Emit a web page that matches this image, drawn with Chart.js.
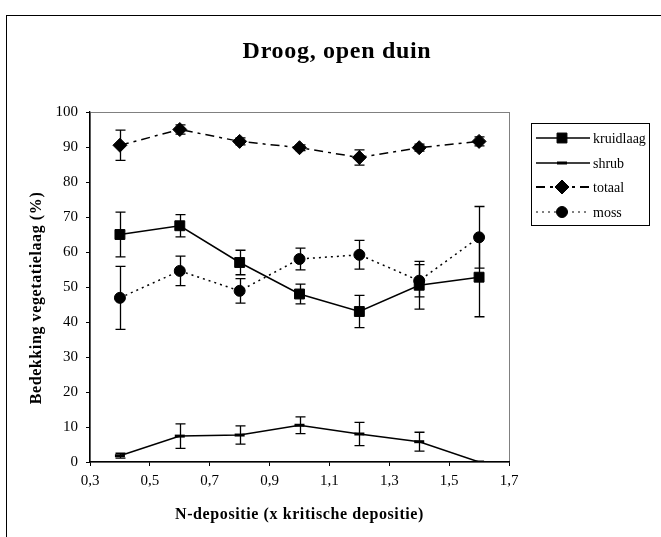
<!DOCTYPE html>
<html>
<head>
<meta charset="utf-8">
<script src="https://cdn.jsdelivr.net/npm/chart.js@4/dist/chart.umd.min.js"></script>
<style>
  html, body { margin: 0; padding: 0; background: #fff; overflow: hidden; }
  #wrap { position: relative; width: 661px; height: 537px; }
  #frame { position: absolute; left: 6px; top: 15px; width: 720px; height: 600px; border: 1px solid #000; }
  canvas { position: absolute; left: 0; top: 0; }
</style>
</head>
<body>
<div id="wrap">
  <div id="frame"></div>
  <canvas id="myChart" width="661" height="537"></canvas>
</div>
<script>
// N-depositie values (x kritische depositie)
const xVals = [0.4, 0.6, 0.8, 1.0, 1.2, 1.4, 1.6];

const kruidlaag    = [65.0, 67.5, 57.0, 48.0, 43.0, 50.5, 52.8];
const kruidlaagErr = [6.4, 3.2, 3.5, 2.8, 4.6, 6.8, 11.3];
const shrub        = [1.8, 7.4, 7.7, 10.5, 8.0, 5.8, 0];
const shrubErr     = [0.7, 3.5, 2.6, 2.4, 3.3, 2.7, 0];
const totaal       = [90.5, 95.0, 91.6, 89.8, 87.0, 89.8, 91.6];
const totaalErr    = [4.3, 1.3, 1.0, 0.8, 2.2, 1.0, 1.3];
const moss         = [46.9, 54.6, 48.9, 58.0, 59.2, 51.8, 64.2];
const mossErr      = [9.0, 4.2, 3.5, 3.1, 4.1, 4.6, 8.8];

const titleText = 'Droog, open duin';
const xTitle = 'N-depositie (x kritische depositie)';
const yTitle = 'Bedekking vegetatielaag (%)';

const serif = "'Liberation Serif', 'Times New Roman', serif";

function pts(vals) {
  return vals.map(function (v, i) { return { x: xVals[i], y: v }; });
}

// grey frame round the plot area (left/bottom axes are drawn black over it)
const plotFrame = {
  id: 'plotFrame',
  beforeDraw: function (chart) {
    const a = chart.chartArea, c = chart.ctx;
    c.save();
    c.strokeStyle = '#808080';
    c.lineWidth = 1;
    c.strokeRect(a.left + 0.5, a.top + 0.5, a.right - a.left, a.bottom - a.top);
    c.restore();
  }
};

// title and axis titles
const titles = {
  id: 'titles',
  afterDraw: function (chart) {
    const c = chart.ctx, a = chart.chartArea;
    c.save();
    c.fillStyle = '#000';
    c.textAlign = 'center';
    c.textBaseline = 'middle';
    c.letterSpacing = '0.7px';
    c.font = 'bold 24px ' + serif;
    c.fillText(titleText, 337, 52);
    c.letterSpacing = '0.6px';
    c.font = 'bold 16px ' + serif;
    c.fillText(xTitle, (a.left + a.right) / 2, 515);
    c.translate(37, 298);
    c.rotate(-Math.PI / 2);
    c.fillText(yTitle, 0, 0);
    c.restore();
  }
};

// error bars, read from each dataset's err array
const errorBars = {
  id: 'errorBars',
  beforeDatasetsDraw: function (chart) {
    const c = chart.ctx, xs = chart.scales.x, ys = chart.scales.y;
    c.save();
    c.strokeStyle = '#000';
    c.lineWidth = 1.3;
    chart.data.datasets.forEach(function (ds) {
      if (!ds.err) return;
      ds.data.forEach(function (p, i) {
        const e = ds.err[i];
        if (!e) return;
        const px = Math.round(xs.getPixelForValue(p.x)) + 0.5;
        const yTop = ys.getPixelForValue(p.y + e);
        const yBot = ys.getPixelForValue(p.y - e);
        c.beginPath();
        c.moveTo(px, yTop); c.lineTo(px, yBot);
        c.moveTo(px - 5, yTop); c.lineTo(px + 5, yTop);
        c.moveTo(px - 5, yBot); c.lineTo(px + 5, yBot);
        c.stroke();
      });
    });
    c.restore();
  }
};

// boxed legend with line + marker samples
const boxLegend = {
  id: 'boxLegend',
  afterDraw: function (chart) {
    const c = chart.ctx;
    c.save();
    c.strokeStyle = '#000';
    c.lineWidth = 1;
    c.strokeRect(531.5, 123.5, 118, 102);
    const rows = [138, 163, 187, 212];
    chart.data.datasets.forEach(function (ds, i) {
      const y = rows[i];
      c.beginPath();
      c.setLineDash(ds.borderDash || []);
      c.lineWidth = ds.legendWidth || ds.borderWidth;
      c.strokeStyle = '#000';
      c.moveTo(536, y); c.lineTo(590, y);
      c.stroke();
      c.setLineDash([]);
      c.fillStyle = '#000';
      c.lineWidth = ds.pointBorderWidth;
      Chart.helpers.drawPoint(c, {
        pointStyle: ds.pointStyle, radius: ds.pointRadius, borderWidth: ds.pointBorderWidth, rotation: 0
      }, 562, y);
      c.fillStyle = '#000';
      c.font = '14px ' + serif;
      c.textBaseline = 'middle';
      c.fillText(ds.label, 593, y + 1);
    });
    c.restore();
  }
};

var ctx = document.getElementById('myChart').getContext('2d');
var chart = new Chart(ctx, {
  type: 'line',
  data: {
    datasets: [
      {
        label: 'kruidlaag',
        data: pts(kruidlaag),
        err: kruidlaagErr,
        borderColor: '#000',
        backgroundColor: '#000',
        borderWidth: 1.5,
        pointStyle: 'rect',
        pointRadius: 7,
        pointBorderWidth: 1
      },
      {
        label: 'shrub',
        data: pts(shrub),
        err: shrubErr,
        borderColor: '#000',
        backgroundColor: '#000',
        borderWidth: 1.5,
        pointStyle: 'line',
        pointRadius: 5,
        pointBorderWidth: 3
      },
      {
        label: 'totaal',
        data: pts(totaal),
        err: totaalErr,
        borderColor: '#000',
        backgroundColor: '#000',
        borderWidth: 1.5,
        legendWidth: 2.2,
        borderDash: [9, 5, 3, 5],
        pointStyle: 'rectRot',
        pointRadius: 7,
        pointBorderWidth: 1
      },
      {
        label: 'moss',
        data: pts(moss),
        err: mossErr,
        borderColor: '#000',
        backgroundColor: '#000',
        borderWidth: 1.5,
        legendWidth: 1,
        borderDash: [2, 4],
        pointStyle: 'circle',
        pointRadius: 5.5,
        pointBorderWidth: 1
      }
    ]
  },
  options: {
    responsive: false,
    animation: false,
    layout: { padding: { top: 112, right: 152, bottom: 0, left: 0 } },
    plugins: {
      legend: { display: false },
      tooltip: { enabled: false },
      title: { display: false }
    },
    scales: {
      x: {
        type: 'linear',
        min: 0.3,
        max: 1.7,
        afterFit: function (s) { s.height = 75; },
        border: { color: '#000', width: 1.3 },
        grid: { drawOnChartArea: false, drawTicks: true, tickLength: 4, tickColor: '#000' },
        ticks: {
          stepSize: 0.2,
          color: '#000',
          padding: 6,
          maxRotation: 0,
          font: { family: serif, size: 15 },
          callback: function (v) { return v.toFixed(1).replace('.', ','); }
        }
      },
      y: {
        min: 0,
        max: 100,
        afterFit: function (s) { s.width = 90; },
        border: { color: '#000', width: 1.3 },
        grid: { drawOnChartArea: false, drawTicks: true, tickLength: 4, tickColor: '#000' },
        ticks: {
          stepSize: 10,
          color: '#000',
          padding: 8,
          font: { family: serif, size: 15 }
        }
      }
    }
  },
  plugins: [plotFrame, errorBars, boxLegend, titles]
});
</script>
</body>
</html>
